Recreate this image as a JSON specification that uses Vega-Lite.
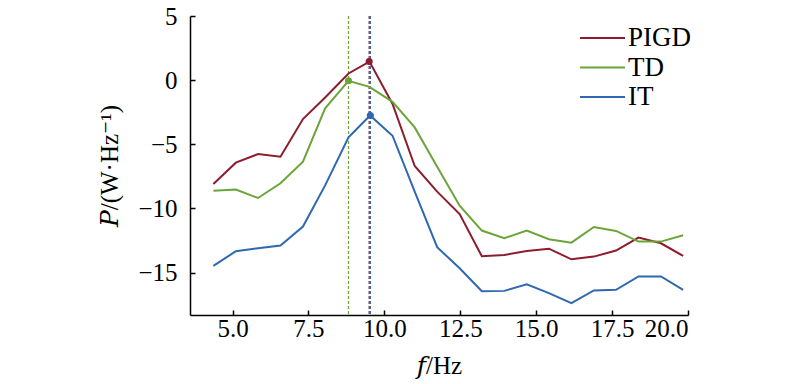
{
  "$schema": "https://vega.github.io/schema/vega-lite/v6.json",
  "width": 498,
  "height": 299,
  "autosize": {"type": "none"},
  "padding": {"left": 190, "top": 16, "right": 112, "bottom": 69},
  "config": {
    "view": {"stroke": null},
    "font": "Liberation Serif",
    "axis": {
      "grid": false,
      "domainColor": "#000000",
      "domainWidth": 1.5,
      "tickColor": "#000000",
      "tickWidth": 1.5,
      "tickSize": -5,
      "labelFont": "Liberation Serif",
      "labelFontSize": 25,
      "labelColor": "#000000",
      "titleFont": "Liberation Serif, DejaVu Serif",
      "titleFontSize": 25,
      "titleFontWeight": "normal",
      "titleColor": "#000000"
    },
    "legend": {
      "symbolType": "M-1,0L2,0",
      "symbolStrokeWidth": 2,
      "labelFont": "Liberation Serif",
      "labelFontSize": 27,
      "labelColor": "#000000"
    }
  },
  "datasets": {
    "spectra": [
      {"f": 4.37, "P": -8.09, "g": "PIGD"}, {"f": 5.11, "P": -6.43, "g": "PIGD"}, {"f": 5.84, "P": -5.76, "g": "PIGD"}, {"f": 6.58, "P": -5.97, "g": "PIGD"}, {"f": 7.32, "P": -3.03, "g": "PIGD"}, {"f": 8.05, "P": -1.35, "g": "PIGD"}, {"f": 8.82, "P": 0.52, "g": "PIGD"}, {"f": 9.51, "P": 1.45, "g": "PIGD"}, {"f": 10.27, "P": -1.85, "g": "PIGD"}, {"f": 11.0, "P": -6.69, "g": "PIGD"}, {"f": 11.74, "P": -8.69, "g": "PIGD"}, {"f": 12.48, "P": -10.43, "g": "PIGD"}, {"f": 13.21, "P": -13.72, "g": "PIGD"}, {"f": 13.95, "P": -13.62, "g": "PIGD"}, {"f": 14.69, "P": -13.31, "g": "PIGD"}, {"f": 15.42, "P": -13.13, "g": "PIGD"}, {"f": 16.16, "P": -13.96, "g": "PIGD"}, {"f": 16.9, "P": -13.75, "g": "PIGD"}, {"f": 17.63, "P": -13.28, "g": "PIGD"}, {"f": 18.37, "P": -12.27, "g": "PIGD"}, {"f": 19.11, "P": -12.71, "g": "PIGD"}, {"f": 19.84, "P": -13.7, "g": "PIGD"},
      {"f": 4.37, "P": -8.61, "g": "TD"}, {"f": 5.11, "P": -8.53, "g": "TD"}, {"f": 5.84, "P": -9.18, "g": "TD"}, {"f": 6.58, "P": -8.04, "g": "TD"}, {"f": 7.32, "P": -6.35, "g": "TD"}, {"f": 8.05, "P": -2.2, "g": "TD"}, {"f": 8.82, "P": -0.05, "g": "TD"}, {"f": 9.51, "P": -0.52, "g": "TD"}, {"f": 10.27, "P": -1.69, "g": "TD"}, {"f": 11.0, "P": -3.68, "g": "TD"}, {"f": 11.74, "P": -6.74, "g": "TD"}, {"f": 12.48, "P": -9.78, "g": "TD"}, {"f": 13.21, "P": -11.72, "g": "TD"}, {"f": 13.95, "P": -12.32, "g": "TD"}, {"f": 14.69, "P": -11.72, "g": "TD"}, {"f": 15.42, "P": -12.4, "g": "TD"}, {"f": 16.16, "P": -12.66, "g": "TD"}, {"f": 16.9, "P": -11.44, "g": "TD"}, {"f": 17.63, "P": -11.75, "g": "TD"}, {"f": 18.37, "P": -12.58, "g": "TD"}, {"f": 19.11, "P": -12.58, "g": "TD"}, {"f": 19.84, "P": -12.09, "g": "TD"},
      {"f": 4.37, "P": -14.47, "g": "IT"}, {"f": 5.11, "P": -13.33, "g": "IT"}, {"f": 5.84, "P": -13.1, "g": "IT"}, {"f": 6.58, "P": -12.89, "g": "IT"}, {"f": 7.32, "P": -11.41, "g": "IT"}, {"f": 8.05, "P": -8.2, "g": "IT"}, {"f": 8.82, "P": -4.46, "g": "IT"}, {"f": 9.53, "P": -2.75, "g": "IT"}, {"f": 10.27, "P": -4.33, "g": "IT"}, {"f": 11.0, "P": -8.69, "g": "IT"}, {"f": 11.74, "P": -13.02, "g": "IT"}, {"f": 12.48, "P": -14.66, "g": "IT"}, {"f": 13.21, "P": -16.45, "g": "IT"}, {"f": 13.95, "P": -16.42, "g": "IT"}, {"f": 14.69, "P": -15.9, "g": "IT"}, {"f": 15.42, "P": -16.6, "g": "IT"}, {"f": 16.16, "P": -17.38, "g": "IT"}, {"f": 16.9, "P": -16.39, "g": "IT"}, {"f": 17.63, "P": -16.34, "g": "IT"}, {"f": 18.37, "P": -15.3, "g": "IT"}, {"f": 19.11, "P": -15.3, "g": "IT"}, {"f": 19.84, "P": -16.34, "g": "IT"}
    ],
    "peaks": [
      {"f": 8.82, "P": -0.05, "g": "TD"},
      {"f": 9.54, "P": -2.75, "g": "IT"},
      {"f": 9.5, "P": 1.45, "g": "PIGD"}
    ]
  },
  "layer": [
    {
      "data": {"name": "peaks"},
      "mark": {"type": "rule", "strokeDash": [3, 2], "strokeWidth": 1.2},
      "encoding": {
        "x": {"field": "f", "type": "quantitative"},
        "color": {"field": "g", "type": "nominal"}
      }
    },
    {
      "data": {"name": "spectra"},
      "mark": {"type": "line", "strokeWidth": 2},
      "encoding": {
        "x": {
          "field": "f", "type": "quantitative",
          "scale": {"domain": [3.6, 20], "nice": false, "zero": false},
          "axis": {"values": [5, 7.5, 10, 12.5, 15, 17.5, 20], "format": ".1f", "title": "𝑓/Hz", "labelFontSize": 25, "labelPadding": 6, "titlePadding": 12}
        },
        "y": {
          "field": "P", "type": "quantitative",
          "scale": {"domain": [-18.3, 5], "nice": false, "zero": false},
          "axis": {"values": [-15, -10, -5, 0, 5], "title": "𝑃/(W·Hz⁻¹)", "labelFontSize": 25, "labelPadding": 18, "titlePadding": 15}
        },
        "color": {
          "field": "g", "type": "nominal",
          "scale": {"domain": ["PIGD", "TD", "IT"], "range": ["#8C1C2E", "#6BA539", "#2F68B0"]},
          "legend": {"title": null, "orient": "none", "legendX": 389, "legendY": 6, "symbolSize": 900, "labelOffset": 17, "rowPadding": 0.5, "labelFontSize": 27}
        },
        "detail": {"field": "g"}
      }
    },
    {
      "data": {"name": "peaks"},
      "mark": {"type": "point", "filled": true, "opacity": 1, "size": 50},
      "encoding": {
        "x": {"field": "f", "type": "quantitative"},
        "y": {"field": "P", "type": "quantitative"},
        "color": {"field": "g", "type": "nominal"}
      }
    }
  ]
}
